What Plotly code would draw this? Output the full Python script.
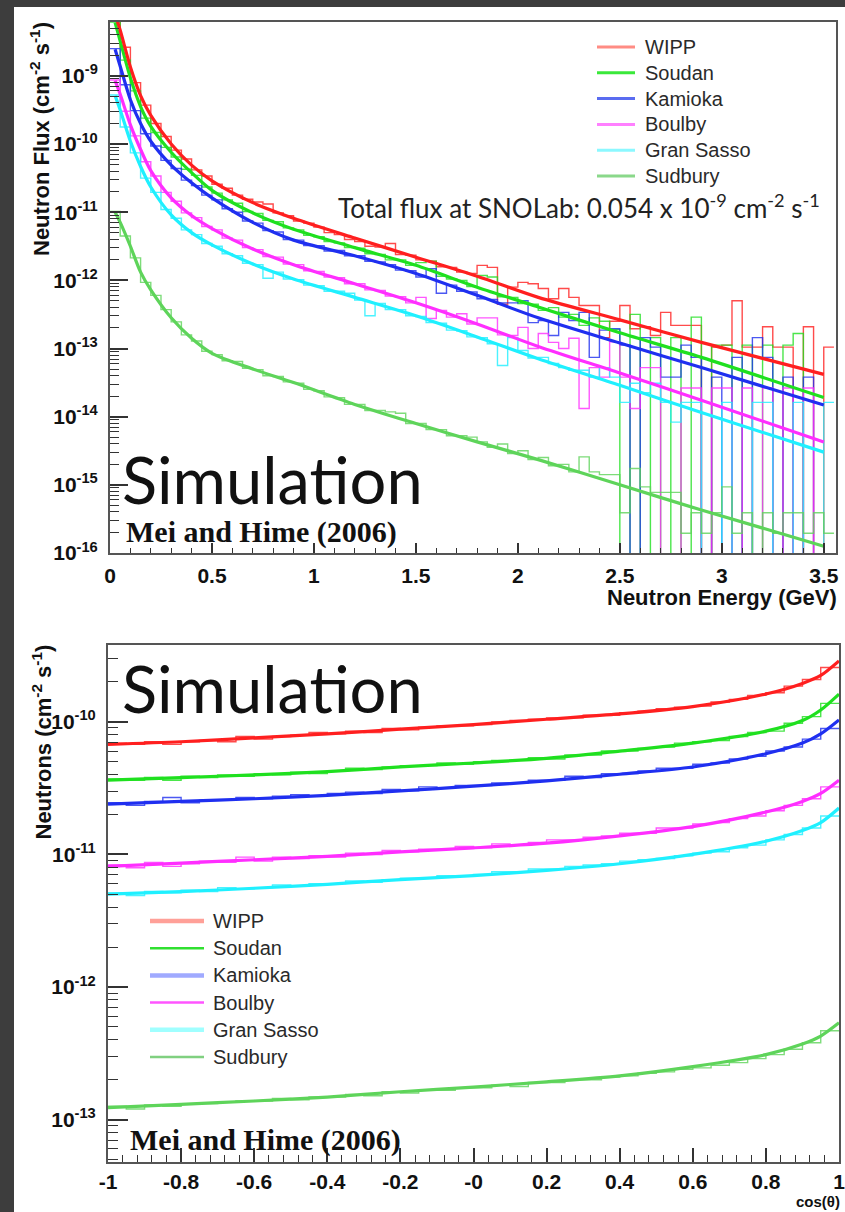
import plotly.graph_objects as go

W, H = 845, 1212

SITES = ["WIPP", "Soudan", "Kamioka", "Boulby", "Gran Sasso", "Sudbury"]
LINE_COLORS = ["#ff1f1f", "#1fe01f", "#1f2ff0", "#ff2eff", "#1ff0ff", "#5ed45a"]
LEGEND_COLORS_TOP = ["#ff8c84", "#3ae83a", "#5a6cf0", "#ff80ff", "#8cf8ff", "#8ad88a"]
LEGEND_COLORS_BOT = ["#ffa098", "#30e030", "#a0aaff", "#ff55ff", "#a0ffff", "#80d080"]
LEGEND_WIDTH_BOT = [4.5, 2.5, 4.5, 2.5, 4.5, 2.5]

# ---------------- Top panel: energy spectra (log10 flux, cm^-2 s^-1) ----------------
energy_fit = [0.025, 0.05, 0.1, 0.15, 0.2, 0.3, 0.4, 0.5, 0.7, 0.9, 1.2, 1.5, 1.8, 2.1, 2.5, 2.9, 3.5]
wipp_efit = [-8.10, -8.33, -8.87, -9.29, -9.58, -10.00, -10.31, -10.54, -10.86, -11.09, -11.38, -11.66, -11.94, -12.25, -12.58, -12.91, -13.38]
soudan_efit = [-8.22, -8.49, -9.03, -9.45, -9.74, -10.12, -10.42, -10.68, -11.01, -11.25, -11.52, -11.78, -12.10, -12.39, -12.77, -13.13, -13.72]
kamioka_efit = [-8.61, -8.86, -9.35, -9.70, -9.96, -10.31, -10.57, -10.79, -11.15, -11.41, -11.64, -11.90, -12.22, -12.55, -12.92, -13.28, -13.83]
boulby_efit = [-9.07, -9.27, -9.72, -10.08, -10.39, -10.79, -11.05, -11.24, -11.54, -11.77, -12.05, -12.33, -12.64, -12.97, -13.36, -13.76, -14.37]
gransasso_efit = [-9.29, -9.50, -9.96, -10.33, -10.63, -11.04, -11.30, -11.48, -11.76, -11.98, -12.25, -12.52, -12.83, -13.15, -13.54, -13.94, -14.52]
sudbury_efit = [-11.00, -11.15, -11.50, -11.88, -12.14, -12.55, -12.85, -13.07, -13.30, -13.50, -13.82, -14.10, -14.37, -14.63, -15.00, -15.37, -15.90]

energy_bin_width = 0.05  # GeV, histogram bins start at 0
# None = empty bin
wipp_ehist = [-8.08, -8.58, -9.10, -9.43, -9.70, -9.89, -10.09, -10.22, -10.38, -10.47,
              -10.59, -10.65, -10.75, -10.81, -10.85, -10.88, -11.01, -11.05, -11.13, -11.16,
              -11.22, -11.30, -11.33, -11.40, -11.43, -11.50, -11.51, -11.46, -11.62, -11.63,
              -11.70, -11.72, -11.80, -11.81, -11.88, -11.90, -11.78, -11.81, -12.35, -12.10,
              -12.03, -12.05, -12.12, -12.27, -12.12, -12.25, -12.37, -12.37, -12.84, -12.60,
              -12.37, -12.71, -12.68, -12.81, -12.47, -12.66, -12.66, -12.66, None, -12.98,
              -12.95, -12.30, -12.98, -12.98, -12.68, -12.98, -12.98, None, -12.68, None, -12.98]
soudan_ehist = [-8.21, -8.77, -9.22, -9.62, -9.83, -10.05, -10.19, -10.37, -10.46, -10.63,
                -10.72, -10.82, -10.87, -10.99, -11.02, -11.12, -11.14, -11.23, -11.26, -11.34,
                -11.36, -11.43, -11.45, -11.52, -11.53, -11.61, -11.62, -11.70, -11.70, -11.78,
                -11.74, -11.72, -11.94, -11.98, -12.00, -12.09, -11.93, -11.95, -12.24, -12.25,
                -12.34, -12.35, -12.44, -12.40, -12.54, -12.50, -12.66, -12.55, -12.60, -12.72,
                None, -12.50, None, -12.84, None, -12.84, None, -12.54, None, -12.95,
                -12.95, None, -12.95, None, -12.95, None, -12.95, -12.78, None, None, None]
kamioka_ehist = [-8.60, -9.13, -9.51, -9.85, -10.03, -10.24, -10.36, -10.53, -10.61, -10.75,
                 -10.82, -10.95, -11.00, -11.13, -11.16, -11.27, -11.29, -11.40, -11.41, -11.49,
                 -11.49, -11.57, -11.56, -11.64, -11.64, -11.72, -11.73, -11.77, -11.85, -11.86,
                 -11.95, -11.83, -12.19, -12.07, -12.16, -12.17, -12.27, -12.28, -12.33, -12.33,
                 -12.30, -12.62, -12.59, -12.81, -12.47, -12.59, -12.47, -13.13, -12.73, -12.71,
                 -12.95, None, -12.84, -12.98, -13.42, -13.42, -12.95, -13.13, None, -13.42,
                 None, -13.13, None, -12.84, -13.13, None, -13.42, None, -13.42, None, None]
boulby_ehist = [-9.06, -9.52, -9.88, -10.26, -10.47, -10.71, -10.84, -11.01, -11.08, -11.21,
                -11.26, -11.38, -11.41, -11.52, -11.55, -11.65, -11.66, -11.76, -11.77, -11.86,
                -11.87, -11.95, -11.96, -12.05, -12.05, -12.14, -12.15, -12.23, -12.24, -12.33,
                -12.25, -12.56, -12.44, -12.54, -12.49, -12.64, -12.55, -12.55, -12.80, -12.81,
                -12.69, -13.00, -12.78, -12.91, -13.00, -12.85, -13.88, -13.28, -13.42, -12.90,
                -13.42, -13.88, -13.28, -13.28, None, None, -13.58, -13.58, None, -13.58,
                -13.58, None, -13.58, None, -13.58, None, -13.58, None, -13.58, None, None]
gransasso_ehist = [-9.28, -9.75, -10.13, -10.50, -10.71, -10.96, -11.09, -11.26, -11.33, -11.46,
                   -11.50, -11.61, -11.64, -11.75, -11.77, -11.97, -11.88, -11.98, -11.99, -12.07,
                   -12.08, -12.16, -12.16, -12.19, -12.29, -12.52, -12.34, -12.43, -12.43, -12.52,
                   -12.53, -12.62, -12.63, -12.73, -12.74, -12.83, -12.84, -12.93, -13.25, -12.84,
                   -13.03, -13.14, -13.13, -13.22, -13.28, -13.32, -13.32, -13.42, -13.28, -13.42,
                   -13.79, -13.51, -13.65, -13.51, -13.79, -14.08, -13.79, -13.79, None, None,
                   -13.79, None, None, -13.79, -13.79, None, None, -13.79, None, None, -13.79]
sudbury_ehist = [-10.99, -11.35, -11.67, -12.03, -12.22, -12.43, -12.61, -12.80, -12.89, -13.04,
                 -13.09, -13.18, -13.19, -13.29, -13.31, -13.40, -13.41, -13.49, -13.51, -13.60,
                 -13.62, -13.71, -13.72, -13.82, -13.82, -13.91, -13.91, -13.93, -13.95, -14.10,
                 -14.10, -14.19, -14.19, -14.28, -14.28, -14.30, -14.37, -14.45, -14.40, -14.54,
                 -14.50, -14.63, -14.60, -14.72, -14.70, -14.81, -14.59, -14.81, -14.85, -14.85,
                 -15.41, -14.76, -15.03, -15.11, -15.11, -15.11, -15.71, -15.41, -15.71, -15.41,
                 -15.03, -15.71, -15.41, None, -15.41, -15.71, -15.41, -15.41, -15.71, -15.41, -15.71]

# ---------------- Bottom panel: angular distributions (log10) ----------------
cos_fit = [-1.0, -0.8, -0.6, -0.4, -0.2, 0.0, 0.2, 0.4, 0.6, 0.8, 0.9, 0.95, 1.0]
wipp_afit = [-10.17, -10.15, -10.12, -10.09, -10.055, -10.02, -9.98, -9.94, -9.885, -9.79, -9.71, -9.65, -9.54]
soudan_afit = [-10.44, -10.42, -10.40, -10.375, -10.34, -10.31, -10.275, -10.22, -10.16, -10.07, -9.99, -9.91, -9.79]
kamioka_afit = [-10.62, -10.60, -10.58, -10.555, -10.52, -10.485, -10.445, -10.395, -10.34, -10.24, -10.16, -10.09, -9.985]
boulby_afit = [-11.09, -11.065, -11.04, -11.015, -10.98, -10.95, -10.915, -10.86, -10.79, -10.68, -10.60, -10.54, -10.44]
gransasso_afit = [-11.30, -11.28, -11.255, -11.225, -11.19, -11.16, -11.12, -11.07, -11.00, -10.90, -10.82, -10.76, -10.65]
sudbury_afit = [-12.91, -12.885, -12.86, -12.83, -12.79, -12.755, -12.715, -12.67, -12.60, -12.51, -12.43, -12.37, -12.27]

cos_bin_width = 0.05  # bins start at -1
wipp_ahist = [-10.16, -10.17, -10.15, -10.17, -10.15, -10.14, -10.15, -10.11, -10.13, -10.11,
              -10.10, -10.08, -10.09, -10.07, -10.08, -10.05, -10.06, -10.04, -10.03, -10.03,
              -10.02, -10.00, -9.99, -9.98, -9.97, -9.97, -9.95, -9.95, -9.93, -9.92,
              -9.90, -9.89, -9.88, -9.85, -9.83, -9.80, -9.78, -9.73, -9.68, -9.59]
soudan_ahist = [-10.43, -10.44, -10.42, -10.44, -10.41, -10.42, -10.40, -10.41, -10.39, -10.40,
                -10.38, -10.39, -10.37, -10.35, -10.36, -10.34, -10.33, -10.33, -10.31, -10.32,
                -10.30, -10.29, -10.29, -10.27, -10.28, -10.25, -10.25, -10.22, -10.22, -10.20,
                -10.19, -10.16, -10.15, -10.14, -10.11, -10.08, -10.07, -10.01, -9.96, -9.86]
kamioka_ahist = [-10.61, -10.63, -10.60, -10.57, -10.61, -10.59, -10.59, -10.57, -10.58, -10.56,
                 -10.55, -10.56, -10.54, -10.53, -10.54, -10.51, -10.52, -10.49, -10.50, -10.48,
                 -10.48, -10.46, -10.46, -10.44, -10.44, -10.41, -10.42, -10.39, -10.39, -10.37,
                 -10.35, -10.35, -10.32, -10.31, -10.28, -10.26, -10.22, -10.19, -10.13, -10.05]
boulby_ahist = [-11.08, -11.10, -11.06, -11.09, -11.07, -11.05, -11.06, -11.02, -11.05, -11.02,
                -11.03, -11.01, -11.02, -10.99, -11.00, -10.97, -10.98, -10.96, -10.96, -10.94,
                -10.95, -10.92, -10.93, -10.91, -10.89, -10.89, -10.87, -10.86, -10.84, -10.84,
                -10.80, -10.80, -10.77, -10.76, -10.73, -10.71, -10.67, -10.63, -10.58, -10.49]
gransasso_ahist = [-11.29, -11.31, -11.28, -11.29, -11.27, -11.28, -11.25, -11.26, -11.25, -11.23,
                   -11.24, -11.22, -11.22, -11.20, -11.21, -11.19, -11.18, -11.18, -11.16, -11.16,
                   -11.15, -11.13, -11.13, -11.11, -11.11, -11.09, -11.08, -11.07, -11.05, -11.04,
                   -11.03, -11.01, -10.99, -10.98, -10.95, -10.93, -10.89, -10.85, -10.80, -10.71]
sudbury_ahist = [-12.90, -12.92, -12.89, -12.90, -12.88, -12.88, -12.87, -12.86, -12.86, -12.84,
                 -12.85, -12.83, -12.83, -12.81, -12.82, -12.79, -12.80, -12.78, -12.78, -12.76,
                 -12.76, -12.74, -12.75, -12.72, -12.72, -12.70, -12.70, -12.68, -12.67, -12.65,
                 -12.64, -12.62, -12.61, -12.59, -12.57, -12.54, -12.51, -12.47, -12.42, -12.33]

energy_ticks = [0, 0.5, 1, 1.5, 2, 2.5, 3, 3.5]
energy_ticktext = ["0", "0.5", "1", "1.5", "2", "2.5", "3", "3.5"]
cos_ticks = [-1, -0.8, -0.6, -0.4, -0.2, 0, 0.2, 0.4, 0.6, 0.8, 1]
cos_ticktext = ["-1", "-0.8", "-0.6", "-0.4", "-0.2", "-0", "0.2", "0.4", "0.6", "0.8", "1"]
top_decades = [-16, -15, -14, -13, -12, -11, -10, -9]
bot_decades = [-13, -12, -11, -10]

E_FITS = [wipp_efit, soudan_efit, kamioka_efit, boulby_efit, gransasso_efit, sudbury_efit]
E_HISTS = [wipp_ehist, soudan_ehist, kamioka_ehist, boulby_ehist, gransasso_ehist, sudbury_ehist]
A_FITS = [wipp_afit, soudan_afit, kamioka_afit, boulby_afit, gransasso_afit, sudbury_afit]
A_HISTS = [wipp_ahist, soudan_ahist, kamioka_ahist, boulby_ahist, gransasso_ahist, sudbury_ahist]

FLOOR = 1e-22  # empty bins drop off the bottom of the log axis


def px(x):
    return x / W


def py(y):
    return 1 - y / H


def to_flux(v):
    return FLOOR if v is None else 10 ** v


def step(x_start, width, logs):
    edges = [x_start + i * width for i in range(len(logs) + 1)]
    ys = [to_flux(v) for v in logs] + [to_flux(logs[-1])]
    return edges, ys


fig = go.Figure()

# histograms first (thin steps), then fitted curves
for i, name in enumerate(SITES):
    xs, ys = step(0.0, energy_bin_width, E_HISTS[i])
    fig.add_trace(go.Scatter(x=xs, y=ys, mode="lines", line=dict(color=LINE_COLORS[i], width=1.4, shape="hv"),
                             opacity=0.8, showlegend=False, xaxis="x", yaxis="y", hoverinfo="skip"))
    xs, ys = step(-1.0, cos_bin_width, A_HISTS[i])
    fig.add_trace(go.Scatter(x=xs, y=ys, mode="lines", line=dict(color=LINE_COLORS[i], width=1.4, shape="hv"),
                             opacity=0.8, showlegend=False, xaxis="x2", yaxis="y2", hoverinfo="skip"))

for i in reversed(range(len(SITES))):
    fig.add_trace(go.Scatter(x=energy_fit, y=[10 ** v for v in E_FITS[i]], mode="lines", name=SITES[i],
                             line=dict(color=LINE_COLORS[i], width=3.2, shape="spline", smoothing=0.8),
                             showlegend=False, xaxis="x", yaxis="y"))
    fig.add_trace(go.Scatter(x=cos_fit, y=[10 ** v for v in A_FITS[i]], mode="lines", name=SITES[i],
                             line=dict(color=LINE_COLORS[i], width=3.2, shape="spline", smoothing=0.8),
                             showlegend=False, xaxis="x2", yaxis="y2"))

TICK_FONT = dict(family="Liberation Sans, Arial, sans-serif", size=21, color="#111111", weight="bold")


def log_axis(decades, rng, domain, major_len, minor_len):
    lo, hi = decades[0], decades[-1] + 1
    minor_vals = [m * 10.0 ** e for e in range(lo - 1, hi + 1) for m in range(2, 10)]
    return dict(type="log", range=rng, domain=domain, automargin=False,
                tickmode="array", tickvals=[10.0 ** d for d in decades],
                ticktext=["10<sup>%d</sup>" % d for d in decades],
                ticks="inside", ticklen=major_len, tickwidth=1.5, tickcolor="#333",
                minor=dict(tickmode="array", tickvals=minor_vals, ticks="inside",
                           ticklen=minor_len, tickwidth=1.2, tickcolor="#333", showgrid=False),
                showline=True, linecolor="#555", linewidth=2, mirror=True,
                showgrid=False, zeroline=False, tickfont=TICK_FONT, ticklabelstandoff=6,
                ticklabeloverflow="allow")


def lin_axis(tv, tt, rng, domain, minor_dtick, major_len, minor_len, anchor, standoff):
    return dict(range=rng, domain=domain, anchor=anchor, automargin=False,
                tickmode="array", tickvals=tv, ticktext=tt,
                ticks="inside", ticklen=major_len, tickwidth=1.5, tickcolor="#333",
                minor=dict(tickmode="linear", tick0=rng[0], dtick=minor_dtick,
                           ticks="inside", ticklen=minor_len, tickwidth=1.2, tickcolor="#333", showgrid=False),
                showline=True, linecolor="#555", linewidth=2, mirror=True,
                showgrid=False, zeroline=False, tickfont=TICK_FONT, ticklabelstandoff=standoff,
                ticklabeloverflow="allow")


xa = lin_axis(energy_ticks, energy_ticktext, [0, 3.56], [px(110), px(836)], 0.1, 10, 5, "y", 3)
xa2 = lin_axis(cos_ticks, cos_ticktext, [-1, 1], [px(108), px(839)], 0.04, 14, 7, "y2", 0)
ya = log_axis(top_decades, [-16, -8.21], [py(553), py(22)], 18, 9)
ya["anchor"] = "x"
ya2 = log_axis(bot_decades, [-13.32, -9.42], [py(1162), py(645)], 20, 10)
ya2["anchor"] = "x2"

annotations = []
TITLE_FONT = dict(family="Liberation Sans, Arial, sans-serif", size=22, color="#111111", weight="bold")
annotations.append(dict(text="Neutron Flux (cm<sup>-2</sup> s<sup>-1</sup>)", textangle=-90,
                        x=px(40), y=py(20), xanchor="center", yanchor="top", font=TITLE_FONT))
annotations.append(dict(text="Neutron Energy (GeV)", x=px(839), y=py(598), xanchor="right", yanchor="middle",
                        font=TITLE_FONT))
annotations.append(dict(text="Neutrons (cm<sup>-2</sup> s<sup>-1</sup>)", textangle=-90,
                        x=px(41), y=py(643), xanchor="center", yanchor="top", font=TITLE_FONT))
annotations.append(dict(text="cos(θ)", x=px(842), y=0.0, xanchor="right", yanchor="bottom",
                        font=dict(family="Liberation Sans, Arial, sans-serif", size=15, color="#111", weight="bold")))

GILL = dict(family="Lato, 'Open Sans', sans-serif", color="#111111")
annotations.append(dict(text="Total flux at SNOLab: 0.054 x 10<sup>-9</sup> cm<sup>-2</sup> s<sup>-1</sup>",
                        x=px(336), y=py(206), xanchor="left", yanchor="middle", font=dict(GILL, size=26, color="#222")))
for ycap in (479, 688):
    annotations.append(dict(text="Simulation", x=px(120), y=py(ycap), xanchor="left", yanchor="middle",
                            font=dict(GILL, size=65)))
for (xx, yy) in ((124, 532), (128, 1140)):
    annotations.append(dict(text="Mei and Hime (2006)", x=px(xx), y=py(yy), xanchor="left", yanchor="middle",
                            font=dict(family="Liberation Serif, 'DejaVu Serif', serif", size=30,
                                      color="#111", weight="bold")))

# legends (drawn as line samples + labels)
shapes = [dict(type="rect", xref="paper", yref="paper", x0=px(14), x1=1.0, y0=0.0, y1=py(7),
               fillcolor="white", line=dict(width=0), layer="below")]
LEG_FONT = dict(family="Liberation Sans, Arial, sans-serif", size=20, color="#2a2a2a")
for i, name in enumerate(SITES):
    yt = 47 + i * 25.8
    shapes.append(dict(type="line", xref="paper", yref="paper", x0=px(597), x1=px(635), y0=py(yt), y1=py(yt),
                       line=dict(color=LEGEND_COLORS_TOP[i], width=3)))
    annotations.append(dict(text=name, x=px(643), y=py(yt), xanchor="left", yanchor="middle", font=LEG_FONT))
    yb = 921 + i * 27.2
    shapes.append(dict(type="line", xref="paper", yref="paper", x0=px(150), x1=px(204), y0=py(yb), y1=py(yb),
                       line=dict(color=LEGEND_COLORS_BOT[i], width=LEGEND_WIDTH_BOT[i])))
    annotations.append(dict(text=name, x=px(211), y=py(yb), xanchor="left", yanchor="middle", font=LEG_FONT))

for a in annotations:
    a.setdefault("xref", "paper")
    a.setdefault("yref", "paper")
    a["showarrow"] = False

fig.update_layout(
    width=W, height=H, margin=dict(l=0, r=0, t=0, b=0, autoexpand=False),
    paper_bgcolor="#3d3d3d", plot_bgcolor="rgba(0,0,0,0)",
    xaxis=xa, yaxis=ya, xaxis2=xa2, yaxis2=ya2,
    annotations=annotations, shapes=shapes, showlegend=False,
)

fig.write_html("out.html")
